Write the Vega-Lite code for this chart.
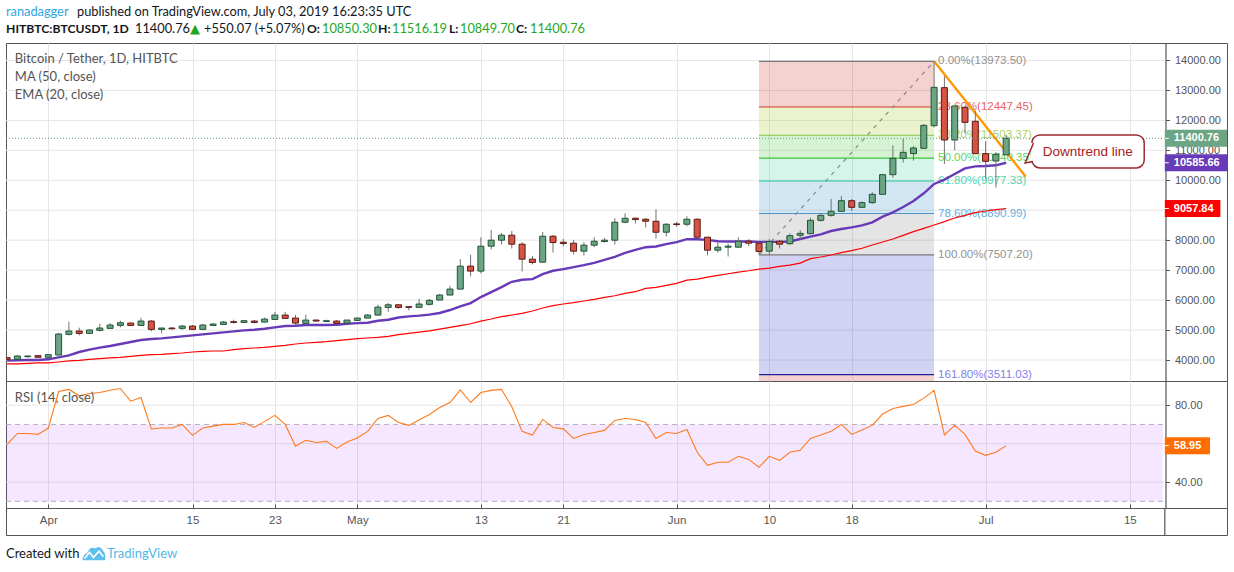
{
  "$schema": "https://vega.github.io/schema/vega-lite/v6.json",
  "description": "Bitcoin / Tether daily candles with EMA 20, MA 50, fibonacci retracement and RSI 14.",
  "padding": {"left": 5, "right": 0, "top": 0, "bottom": 0},
  "background": "white",
  "bounds": "flush",
  "spacing": 0,
  "resolve": {"scale": {"color": "independent", "fill": "independent", "stroke": "independent"}},
  "datasets": {
    "daily": [
      {"date":"2019-03-28","open":4079,"close":4023,"high":4090,"low":4012,"ema":3979,"ma":3868,"rsi":59.6},
      {"date":"2019-03-29","open":4023,"close":4134,"high":4156,"low":4001,"ema":3990,"ma":3868,"rsi":65.3},
      {"date":"2019-03-30","open":4112,"close":4134,"high":4145,"low":4079,"ema":4001,"ma":3890,"rsi":65.3},
      {"date":"2019-03-31","open":4145,"close":4090,"high":4150,"low":4085,"ema":4001,"ma":3901,"rsi":64.8},
      {"date":"2019-04-01","open":4090,"close":4179,"high":4190,"low":4079,"ema":4023,"ma":3901,"rsi":68.1},
      {"date":"2019-04-02","open":4167,"close":4867,"high":4900,"low":4156,"ema":4090,"ma":3934,"rsi":87.1},
      {"date":"2019-04-03","open":4856,"close":4967,"high":5278,"low":4822,"ema":4156,"ma":3968,"rsi":88.2},
      {"date":"2019-04-04","open":4967,"close":4889,"high":5078,"low":4822,"ema":4267,"ma":3990,"rsi":84.9},
      {"date":"2019-04-05","open":4889,"close":5000,"high":5033,"low":4889,"ema":4345,"ma":4023,"rsi":86.1},
      {"date":"2019-04-06","open":4989,"close":5067,"high":5211,"low":4956,"ema":4412,"ma":4045,"rsi":86.6},
      {"date":"2019-04-07","open":5056,"close":5167,"high":5233,"low":5056,"ema":4467,"ma":4068,"rsi":87.8},
      {"date":"2019-04-08","open":5155,"close":5244,"high":5311,"low":5089,"ema":4534,"ma":4090,"rsi":88.7},
      {"date":"2019-04-09","open":5233,"close":5155,"high":5255,"low":5133,"ema":4600,"ma":4123,"rsi":82.1},
      {"date":"2019-04-10","open":5155,"close":5300,"high":5411,"low":5155,"ema":4667,"ma":4156,"rsi":84},
      {"date":"2019-04-11","open":5300,"close":5022,"high":5333,"low":4956,"ema":4700,"ma":4179,"rsi":67.6},
      {"date":"2019-04-12","open":5022,"close":5067,"high":5067,"low":4889,"ema":4722,"ma":4190,"rsi":68.1},
      {"date":"2019-04-13","open":5067,"close":5044,"high":5100,"low":5011,"ema":4756,"ma":4212,"rsi":68.1},
      {"date":"2019-04-14","open":5056,"close":5133,"high":5167,"low":5011,"ema":4789,"ma":4234,"rsi":70},
      {"date":"2019-04-15","open":5133,"close":5022,"high":5167,"low":5000,"ema":4822,"ma":4267,"rsi":64.3},
      {"date":"2019-04-16","open":5022,"close":5167,"high":5200,"low":5022,"ema":4856,"ma":4290,"rsi":68.1},
      {"date":"2019-04-17","open":5155,"close":5200,"high":5233,"low":5155,"ema":4889,"ma":4301,"rsi":69.1},
      {"date":"2019-04-18","open":5189,"close":5266,"high":5300,"low":5189,"ema":4922,"ma":4301,"rsi":70},
      {"date":"2019-04-19","open":5278,"close":5255,"high":5344,"low":5222,"ema":4956,"ma":4345,"rsi":70},
      {"date":"2019-04-20","open":5255,"close":5311,"high":5333,"low":5244,"ema":4989,"ma":4378,"rsi":71},
      {"date":"2019-04-21","open":5300,"close":5255,"high":5333,"low":5222,"ema":5011,"ma":4401,"rsi":68.4},
      {"date":"2019-04-22","open":5266,"close":5366,"high":5411,"low":5255,"ema":5044,"ma":4423,"rsi":71.6},
      {"date":"2019-04-23","open":5355,"close":5500,"high":5610,"low":5355,"ema":5089,"ma":4456,"rsi":74.7},
      {"date":"2019-04-24","open":5500,"close":5389,"high":5610,"low":5389,"ema":5133,"ma":4489,"rsi":70},
      {"date":"2019-04-25","open":5400,"close":5233,"high":5511,"low":5155,"ema":5144,"ma":4534,"rsi":58.6},
      {"date":"2019-04-26","open":5222,"close":5333,"high":5511,"low":5178,"ema":5167,"ma":4567,"rsi":61.7},
      {"date":"2019-04-27","open":5333,"close":5300,"high":5344,"low":5289,"ema":5167,"ma":4589,"rsi":60.6},
      {"date":"2019-04-28","open":5289,"close":5311,"high":5344,"low":5278,"ema":5167,"ma":4612,"rsi":61.2},
      {"date":"2019-04-29","open":5300,"close":5222,"high":5333,"low":5200,"ema":5178,"ma":4645,"rsi":57.5},
      {"date":"2019-04-30","open":5233,"close":5333,"high":5333,"low":5222,"ema":5211,"ma":4678,"rsi":60.8},
      {"date":"2019-05-01","open":5322,"close":5400,"high":5411,"low":5322,"ema":5233,"ma":4711,"rsi":62.9},
      {"date":"2019-05-02","open":5400,"close":5500,"high":5533,"low":5400,"ema":5244,"ma":4734,"rsi":66.4},
      {"date":"2019-05-03","open":5500,"close":5766,"high":5844,"low":5489,"ema":5311,"ma":4756,"rsi":73.1},
      {"date":"2019-05-04","open":5755,"close":5844,"high":5910,"low":5611,"ema":5344,"ma":4789,"rsi":74.7},
      {"date":"2019-05-05","open":5844,"close":5755,"high":5844,"low":5711,"ema":5420,"ma":4850,"rsi":71},
      {"date":"2019-05-06","open":5780,"close":5758,"high":5780,"low":5658,"ema":5458,"ma":4890,"rsi":69.5},
      {"date":"2019-05-07","open":5758,"close":5869,"high":6046,"low":5758,"ema":5480,"ma":4930,"rsi":72.3},
      {"date":"2019-05-08","open":5858,"close":5991,"high":6035,"low":5824,"ema":5514,"ma":4975,"rsi":75.2},
      {"date":"2019-05-09","open":6002,"close":6169,"high":6202,"low":6002,"ema":5569,"ma":5030,"rsi":78.8},
      {"date":"2019-05-10","open":6169,"close":6368,"high":6479,"low":6169,"ema":5669,"ma":5090,"rsi":81.4},
      {"date":"2019-05-11","open":6368,"close":7134,"high":7367,"low":6368,"ema":5791,"ma":5150,"rsi":88},
      {"date":"2019-05-12","open":7134,"close":6968,"high":7512,"low":6790,"ema":5902,"ma":5210,"rsi":81.4},
      {"date":"2019-05-13","open":6968,"close":7800,"high":8100,"low":6890,"ema":6102,"ma":5300,"rsi":86.6},
      {"date":"2019-05-14","open":7800,"close":8000,"high":8344,"low":7689,"ema":6268,"ma":5369,"rsi":87.7},
      {"date":"2019-05-15","open":8000,"close":8167,"high":8244,"low":7856,"ema":6435,"ma":5447,"rsi":88.2},
      {"date":"2019-05-16","open":8167,"close":7867,"high":8311,"low":7722,"ema":6612,"ma":5503,"rsi":79.2},
      {"date":"2019-05-17","open":7867,"close":7367,"high":7933,"low":6957,"ema":6679,"ma":5558,"rsi":66.4},
      {"date":"2019-05-18","open":7367,"close":7256,"high":7478,"low":7190,"ema":6701,"ma":5636,"rsi":64.5},
      {"date":"2019-05-19","open":7267,"close":8133,"high":8278,"low":7256,"ema":6868,"ma":5736,"rsi":72.6},
      {"date":"2019-05-20","open":8133,"close":7922,"high":8178,"low":7589,"ema":6979,"ma":5813,"rsi":68.4},
      {"date":"2019-05-21","open":7933,"close":7889,"high":8044,"low":7800,"ema":7034,"ma":5869,"rsi":67.7},
      {"date":"2019-05-22","open":7900,"close":7634,"high":8011,"low":7523,"ema":7101,"ma":5913,"rsi":62.7},
      {"date":"2019-05-23","open":7634,"close":7833,"high":7933,"low":7489,"ema":7167,"ma":5969,"rsi":64.8},
      {"date":"2019-05-24","open":7833,"close":7967,"high":8100,"low":7767,"ema":7245,"ma":6024,"rsi":65.8},
      {"date":"2019-05-25","open":7956,"close":8000,"high":8078,"low":7922,"ema":7345,"ma":6091,"rsi":66.9},
      {"date":"2019-05-26","open":8000,"close":8600,"high":8733,"low":7856,"ema":7445,"ma":6146,"rsi":72.1},
      {"date":"2019-05-27","open":8600,"close":8733,"high":8900,"low":8566,"ema":7578,"ma":6224,"rsi":73.1},
      {"date":"2019-05-28","open":8733,"close":8689,"high":8755,"low":8555,"ema":7678,"ma":6280,"rsi":72.6},
      {"date":"2019-05-29","open":8700,"close":8633,"high":8733,"low":8422,"ema":7767,"ma":6390,"rsi":71},
      {"date":"2019-05-30","open":8633,"close":8266,"high":9032,"low":8055,"ema":7789,"ma":6424,"rsi":62.7},
      {"date":"2019-05-31","open":8266,"close":8533,"high":8566,"low":8122,"ema":7867,"ma":6490,"rsi":65.8},
      {"date":"2019-06-01","open":8544,"close":8522,"high":8610,"low":8455,"ema":7933,"ma":6557,"rsi":65.3},
      {"date":"2019-06-02","open":8533,"close":8700,"high":8800,"low":8466,"ema":8033,"ma":6668,"rsi":67.4},
      {"date":"2019-06-03","open":8700,"close":8100,"high":8733,"low":8089,"ema":8033,"ma":6701,"rsi":55.5},
      {"date":"2019-06-04","open":8100,"close":7667,"high":8100,"low":7489,"ema":8011,"ma":6768,"rsi":48.7},
      {"date":"2019-06-05","open":7667,"close":7767,"high":7922,"low":7589,"ema":7967,"ma":6823,"rsi":50.3},
      {"date":"2019-06-06","open":7767,"close":7800,"high":7889,"low":7456,"ema":7956,"ma":6879,"rsi":50.3},
      {"date":"2019-06-07","open":7767,"close":7967,"high":8100,"low":7767,"ema":7956,"ma":6934,"rsi":53.4},
      {"date":"2019-06-08","open":7967,"close":7900,"high":8033,"low":7800,"ema":7956,"ma":6979,"rsi":51.8},
      {"date":"2019-06-09","open":7900,"close":7622,"high":7900,"low":7523,"ema":7945,"ma":7034,"rsi":47.7},
      {"date":"2019-06-10","open":7634,"close":7956,"high":8033,"low":7500,"ema":7945,"ma":7068,"rsi":53.4},
      {"date":"2019-06-11","open":7967,"close":7867,"high":8000,"low":7722,"ema":7945,"ma":7123,"rsi":51.3},
      {"date":"2019-06-12","open":7884,"close":8151,"high":8229,"low":7840,"ema":7958,"ma":7167,"rsi":55.5},
      {"date":"2019-06-13","open":8162,"close":8229,"high":8340,"low":8040,"ema":8040,"ma":7234,"rsi":56.5},
      {"date":"2019-06-14","open":8218,"close":8663,"high":8751,"low":8196,"ema":8118,"ma":7385,"rsi":62.7},
      {"date":"2019-06-15","open":8663,"close":8830,"high":8897,"low":8618,"ema":8196,"ma":7440,"rsi":64.5},
      {"date":"2019-06-16","open":8830,"close":8964,"high":9375,"low":8786,"ema":8307,"ma":7507,"rsi":66.4},
      {"date":"2019-06-17","open":8964,"close":9320,"high":9476,"low":8941,"ema":8374,"ma":7585,"rsi":70},
      {"date":"2019-06-18","open":9320,"close":9097,"high":9375,"low":8975,"ema":8430,"ma":7652,"rsi":64.8},
      {"date":"2019-06-19","open":9097,"close":9253,"high":9298,"low":9075,"ema":8497,"ma":7730,"rsi":67.1},
      {"date":"2019-06-20","open":9253,"close":9532,"high":9599,"low":9220,"ema":8597,"ma":7841,"rsi":69.5},
      {"date":"2019-06-21","open":9532,"close":10188,"high":10188,"low":9510,"ema":8786,"ma":7941,"rsi":75.4},
      {"date":"2019-06-22","open":10188,"close":10733,"high":11167,"low":10088,"ema":8931,"ma":8041,"rsi":78.3},
      {"date":"2019-06-23","open":10733,"close":10934,"high":11390,"low":10589,"ema":9109,"ma":8163,"rsi":79.4},
      {"date":"2019-06-24","open":10889,"close":11078,"high":11145,"low":10656,"ema":9309,"ma":8285,"rsi":80.4},
      {"date":"2019-06-25","open":11067,"close":11835,"high":11880,"low":11056,"ema":9565,"ma":8396,"rsi":83.7},
      {"date":"2019-06-26","open":11824,"close":13104,"high":13973,"low":11768,"ema":9877,"ma":8507,"rsi":87.7},
      {"date":"2019-06-27","open":13093,"close":11345,"high":13482,"low":10544,"ema":10021,"ma":8618,"rsi":64.5},
      {"date":"2019-06-28","open":11345,"close":12481,"high":12481,"low":11011,"ema":10210,"ma":8741,"rsi":69.5},
      {"date":"2019-06-29","open":12436,"close":11935,"high":12492,"low":11568,"ema":10399,"ma":8830,"rsi":64.8},
      {"date":"2019-06-30","open":11969,"close":10889,"high":12325,"low":10889,"ema":10466,"ma":8919,"rsi":56.1},
      {"date":"2019-07-01","open":10889,"close":10633,"high":11301,"low":10055,"ema":10477,"ma":8975,"rsi":53.9},
      {"date":"2019-07-02","open":10644,"close":10867,"high":10934,"low":9754,"ema":10500,"ma":9019,"rsi":55.5},
      {"date":"2019-07-03","open":10850.3,"close":11400.76,"high":11516.19,"low":10849.7,"ema":10585.66,"ma":9057.84,"rsi":58.95}
    ]
  },
  "vconcat": [
    {
      "width": 1221,
      "height": 43,
      "view": {"stroke": null},
      "data": {"values": [
        {"seg": 0, "line": 1, "txt": "ranadagger", "kind": "user", "bold": false},
        {"seg": 1, "line": 1, "txt": "published on TradingView.com, July 03, 2019 16:23:35 UTC", "kind": "plain", "bold": false},
        {"seg": 0, "line": 2, "txt": "HITBTC:BTCUSDT, 1D", "kind": "plain", "bold": true},
        {"seg": 2, "line": 2, "txt": "11400.76", "kind": "plain", "bold": false},
        {"seg": 3, "line": 2, "txt": "▲", "kind": "up", "bold": false},
        {"seg": 4, "line": 2, "txt": "+550.07 (+5.07%)", "kind": "plain", "bold": false},
        {"seg": 5, "line": 2, "txt": "O:", "kind": "plain", "bold": true},
        {"seg": 6, "line": 2, "txt": "10850.30", "kind": "up", "bold": false},
        {"seg": 7, "line": 2, "txt": "H:", "kind": "plain", "bold": true},
        {"seg": 8, "line": 2, "txt": "11516.19", "kind": "up", "bold": false},
        {"seg": 9, "line": 2, "txt": "L:", "kind": "plain", "bold": true},
        {"seg": 10, "line": 2, "txt": "10849.70", "kind": "up", "bold": false},
        {"seg": 11, "line": 2, "txt": "C:", "kind": "plain", "bold": true},
        {"seg": 12, "line": 2, "txt": "11400.76", "kind": "up", "bold": false}
      ]},
      "encoding": {
        "x": {"field": "seg", "type": "quantitative", "axis": null, "scale": {"domain": [0,1,2,3,4,5,6,7,8,9,10,11,12], "range": [0,71,129,184,198,301,316,372,386,443,454,510,524]}},
        "y": {"field": "line", "type": "quantitative", "axis": null, "scale": {"domain": [1,2], "range": [12,29]}},
        "text": {"field": "txt"},
        "color": {"field": "kind", "legend": null, "scale": {"domain": ["user","plain","up"], "range": ["#2fa6e0","#131722","#1fa71f"]}}
      },
      "layer": [
        {"transform": [{"filter": "!datum.bold && datum.txt != '▲'"}], "mark": {"type": "text", "align": "left", "font": "Lato", "fontSize": 12.8}},
        {"transform": [{"filter": "datum.txt == '▲'"}], "mark": {"type": "text", "align": "left", "font": "DejaVu Sans", "fontSize": 13}},
        {"transform": [{"filter": "datum.bold"}], "mark": {"type": "text", "align": "left", "font": "Lato", "fontSize": 12.2, "fontWeight": "bold"}}
      ]
    },
    {
      "width": 1221,
      "height": 338,
      "view": {"stroke": "#555555"},
      "encoding": {
        "x": {
          "field": "date", "type": "temporal", "title": null,
          "scale": {"type": "utc", "padding": 0, "domain": ["2019-03-27T21:26:00Z", "2019-07-24T10:30:00Z"]},
          "axis": {"title": null, "labels": false, "ticks": false, "domain": false, "grid": true, "gridColor": "#e6e6e6", "values": ["2019-04-01T00:00:00Z","2019-04-15T00:00:00Z","2019-04-23T00:00:00Z","2019-05-01T00:00:00Z","2019-05-13T00:00:00Z","2019-05-21T00:00:00Z","2019-06-01T00:00:00Z","2019-06-10T00:00:00Z","2019-06-18T00:00:00Z","2019-07-01T00:00:00Z","2019-07-15T00:00:00Z"]}
        },
        "y": {
          "field": "price", "type": "quantitative", "title": null,
          "scale": {"domain": [3299, 14584]},
          "axis": {"title": null, "orient": "right", "offset": -61.5, "grid": false, "format": ".2f", "values": [4000,5000,6000,7000,8000,9000,10000,11000,12000,13000,14000], "domainColor": "#555555", "domainWidth": 1.2, "tickColor": "#555555", "tickSize": 4, "labelColor": "#555555", "labelFont": "Liberation Sans", "labelFontSize": 11, "labelPadding": 5}
        }
      },
      "layer": [
        {
          "data": {"values": [
            {"price": 4000, "date": "2019-03-27T21:26:00Z", "end": "2019-07-18T09:36:00Z"},
            {"price": 5000, "date": "2019-03-27T21:26:00Z", "end": "2019-07-18T09:36:00Z"},
            {"price": 6000, "date": "2019-03-27T21:26:00Z", "end": "2019-07-18T09:36:00Z"},
            {"price": 7000, "date": "2019-03-27T21:26:00Z", "end": "2019-07-18T09:36:00Z"},
            {"price": 8000, "date": "2019-03-27T21:26:00Z", "end": "2019-07-18T09:36:00Z"},
            {"price": 9000, "date": "2019-03-27T21:26:00Z", "end": "2019-07-18T09:36:00Z"},
            {"price": 10000, "date": "2019-03-27T21:26:00Z", "end": "2019-07-18T09:36:00Z"},
            {"price": 11000, "date": "2019-03-27T21:26:00Z", "end": "2019-07-18T09:36:00Z"},
            {"price": 12000, "date": "2019-03-27T21:26:00Z", "end": "2019-07-18T09:36:00Z"},
            {"price": 13000, "date": "2019-03-27T21:26:00Z", "end": "2019-07-18T09:36:00Z"},
            {"price": 14000, "date": "2019-03-27T21:26:00Z", "end": "2019-07-18T09:36:00Z"}
          ], "format": {"parse": {"date": "date", "end": "date"}}},
          "mark": {"type": "rule", "color": "#e6e6e6", "strokeWidth": 1},
          "encoding": {"x2": {"field": "end"}}
        },
        {
          "data": {"name": "fib", "values": [
            {"level": "0", "label": "0.00%(13973.50)", "price": 13973.5, "next": 12447.45, "date": "2019-06-09", "end": "2019-06-26"},
            {"level": "23.6", "label": "23.60%(12447.45)", "price": 12447.45, "next": 11503.37, "date": "2019-06-09", "end": "2019-06-26"},
            {"level": "38.2", "label": "38.20%(11503.37)", "price": 11503.37, "next": 10740.35, "date": "2019-06-09", "end": "2019-06-26"},
            {"level": "50", "label": "50.00%(10740.35)", "price": 10740.35, "next": 9977.33, "date": "2019-06-09", "end": "2019-06-26"},
            {"level": "61.8", "label": "61.80%(9977.33)", "price": 9977.33, "next": 8890.99, "date": "2019-06-09", "end": "2019-06-26"},
            {"level": "78.6", "label": "78.60%(8890.99)", "price": 8890.99, "next": 7507.2, "date": "2019-06-09", "end": "2019-06-26"},
            {"level": "100", "label": "100.00%(7507.20)", "price": 7507.2, "next": 3511.03, "date": "2019-06-09", "end": "2019-06-26"},
            {"level": "161.8", "label": "161.80%(3511.03)", "price": 3511.03, "next": 3299, "date": "2019-06-09", "end": "2019-06-26"}
          ], "format": {"parse": {"date": "date", "end": "date"}}},
          "mark": {"type": "rect", "opacity": 0.2},
          "encoding": {
            "x2": {"field": "end"},
            "y2": {"field": "next"},
            "fill": {"field": "level", "legend": null, "scale": {"domain": ["0","23.6","38.2","50","61.8","78.6","100","161.8","close","ema","ma"], "range": ["#c81e14","#96c305","#2dc31e","#2dcd96","#1e82c3","#787878","#1e23be","#c81e14","#6ba583","#673ab7","#ff0000"]}}
          }
        },
        {
          "data": {"name": "fib"},
          "mark": {"type": "rule", "strokeWidth": 1.2},
          "encoding": {
            "x2": {"field": "end"},
            "stroke": {"field": "level", "legend": null, "scale": {"domain": ["0","23.6","38.2","50","61.8","78.6","100","161.8"], "range": ["#787878","#d8392b","#8bc34a","#3cc23c","#26c6a0","#4a96c8","#787878","#2020a0"]}}
          }
        },
        {
          "data": {"name": "fib"},
          "mark": {"type": "text", "align": "left", "dx": 4, "font": "Liberation Sans", "fontSize": 11.5, "opacity": 0.85},
          "encoding": {
            "x": {"field": "end", "type": "temporal", "scale": {"type": "utc", "padding": 0, "domain": ["2019-03-27T21:26:00Z", "2019-07-24T10:30:00Z"]}},
            "text": {"field": "label"},
            "color": {"field": "level", "legend": null, "scale": {"domain": ["0","23.6","38.2","50","61.8","78.6","100","161.8"], "range": ["#808080","#e24a4a","#9ccc45","#3fd03f","#2fcf9f","#45a5e0","#808080","#6a6ae6"]}}
          }
        },
        {
          "data": {"values": [
            {"date": "2019-06-09", "price": 7507.2, "end": "2019-06-26", "next": 13973.5}
          ], "format": {"parse": {"date": "date", "end": "date"}}},
          "mark": {"type": "rule", "color": "#8a8a8a", "strokeWidth": 1.2, "strokeDash": [4, 5]},
          "encoding": {"x2": {"field": "end"}, "y2": {"field": "next"}}
        },
        {
          "data": {"name": "daily"},
          "mark": {"type": "line", "color": "#673ab7", "strokeWidth": 2.4, "clip": true},
          "encoding": {"y": {"field": "ema", "type": "quantitative", "scale": {"domain": [3299, 14584]}}}
        },
        {
          "data": {"name": "daily"},
          "mark": {"type": "line", "color": "#ff0000", "strokeWidth": 1.2, "clip": true},
          "encoding": {"y": {"field": "ma", "type": "quantitative", "scale": {"domain": [3299, 14584]}}}
        },
        {
          "data": {"values": [
            {"date": "2019-06-26T00:00:00Z", "price": 13973.5, "end": "2019-07-04T21:36:00Z", "next": 10121}
          ], "format": {"parse": {"date": "date", "end": "date"}}},
          "mark": {"type": "rule", "color": "#ff9800", "strokeWidth": 2.3},
          "encoding": {"x2": {"field": "end"}, "y2": {"field": "next"}}
        },
        {
          "data": {"name": "daily"},
          "mark": {"type": "rule", "color": "#737375", "strokeWidth": 1, "clip": true},
          "encoding": {"y": {"field": "high", "type": "quantitative", "scale": {"domain": [3299, 14584]}}, "y2": {"field": "low"}}
        },
        {
          "data": {"name": "daily"},
          "mark": {"type": "bar", "size": 6, "strokeWidth": 1, "clip": true},
          "encoding": {
            "y": {"field": "open", "type": "quantitative", "scale": {"domain": [3299, 14584]}},
            "y2": {"field": "close"},
            "fill": {"condition": {"test": "datum.close >= datum.open", "value": "#6ba583"}, "value": "#d75442"},
            "stroke": {"condition": {"test": "datum.close >= datum.open", "value": "#225437"}, "value": "#5b1a13"}
          }
        },
        {
          "data": {"values": [
            {"date": "2019-03-27T21:26:00Z", "end": "2019-07-18T09:36:00Z", "price": 11400.76}
          ], "format": {"parse": {"date": "date", "end": "date"}}},
          "mark": {"type": "rule", "color": "#5f9f7d", "strokeWidth": 1, "strokeDash": [1, 2]},
          "encoding": {"x2": {"field": "end"}}
        },
        {
          "data": {"values": [
            {"date": "2019-03-28T18:00:00Z", "price": 14050, "txt": "Bitcoin / Tether, 1D, HITBTC", "bold": true},
            {"date": "2019-03-28T18:00:00Z", "price": 13449, "txt": "MA (50, close)", "bold": false},
            {"date": "2019-03-28T18:00:00Z", "price": 12848, "txt": "EMA (20, close)", "bold": false}
          ], "format": {"parse": {"date": "date"}}},
          "mark": {"type": "text", "align": "left", "font": "Lato", "fontSize": 13, "color": "#555555"},
          "encoding": {"text": {"field": "txt"}, "fontWeight": {"field": "bold", "legend": null, "scale": {"domain": [true, false], "range": ["bold", "normal"]}}}
        },
        {
          "data": {"values": [
            {"date": "2019-07-05T12:00:00Z", "end": "2019-07-16T09:36:00Z", "price": 11513, "next": 10411}
          ], "format": {"parse": {"date": "date", "end": "date"}}},
          "mark": {"type": "rect", "fill": "white", "stroke": "#9c2a30", "strokeWidth": 1.5, "cornerRadius": 8},
          "encoding": {"x2": {"field": "end"}, "y2": {"field": "next"}}
        },
        {
          "data": {"values": [
            {"date": "2019-07-05T12:00:00Z", "price": 11245, "next": 10628}
          ], "format": {"parse": {"date": "date"}}},
          "mark": {"type": "rule", "color": "white", "strokeWidth": 2.5},
          "encoding": {"y2": {"field": "next"}}
        },
        {
          "data": {"values": [
            {"step": 1, "date": "2019-07-05T15:36:00Z", "price": 11245},
            {"step": 2, "date": "2019-07-04T20:00:00Z", "price": 10578},
            {"step": 3, "date": "2019-07-05T14:30:00Z", "price": 10628}
          ], "format": {"parse": {"date": "date"}}},
          "mark": {"type": "line", "color": "#9c2a30", "strokeWidth": 1.5},
          "encoding": {"order": {"field": "step"}}
        },
        {
          "data": {"values": [
            {"date": "2019-07-10T22:00:00Z", "price": 10950, "txt": "Downtrend line"}
          ], "format": {"parse": {"date": "date"}}},
          "mark": {"type": "text", "font": "Liberation Sans", "fontSize": 13.5, "color": "#a81c20"},
          "encoding": {"text": {"field": "txt"}}
        },
        {
          "data": {"name": "tags", "values": [
            {"name": "close", "txt": "11400.76", "price": 11400.76, "date": "2019-07-18T09:36:00Z", "tick": "2019-07-18T18:54:00Z", "end": "2019-07-24T10:30:00Z"},
            {"name": "ema", "txt": "10585.66", "price": 10585.66, "date": "2019-07-18T09:36:00Z", "tick": "2019-07-18T18:54:00Z", "end": "2019-07-24T10:30:00Z"},
            {"name": "ma", "txt": "9057.84", "price": 9057.84, "date": "2019-07-18T09:36:00Z", "tick": "2019-07-18T18:54:00Z", "end": "2019-07-23T19:00:00Z"}
          ], "format": {"parse": {"date": "date", "tick": "date", "end": "date"}}},
          "mark": {"type": "rect", "height": 17},
          "encoding": {
            "x2": {"field": "end"},
            "fill": {"field": "name", "legend": null, "scale": {"domain": ["0","23.6","38.2","50","61.8","78.6","100","161.8","close","ema","ma"], "range": ["#c81e14","#96c305","#2dc31e","#2dcd96","#1e82c3","#787878","#1e23be","#c81e14","#6ba583","#673ab7","#ff0000"]}}
          }
        },
        {
          "data": {"name": "tags"},
          "mark": {"type": "rule", "color": "white", "strokeWidth": 1},
          "encoding": {"x2": {"field": "tick"}}
        },
        {
          "data": {"name": "tags"},
          "mark": {"type": "text", "align": "left", "dx": 9, "font": "Liberation Sans", "fontSize": 11, "fontWeight": "bold", "color": "white"},
          "encoding": {"text": {"field": "txt"}}
        }
      ]
    },
    {
      "width": 1221,
      "height": 127,
      "view": {"stroke": "#555555"},
      "encoding": {
        "x": {
          "field": "date", "type": "temporal", "title": null,
          "scale": {"type": "utc", "domain": ["2019-03-27T21:26:00Z", "2019-07-24T10:30:00Z"]},
          "axis": {"title": null, "labels": false, "ticks": false, "domain": false, "grid": true, "gridColor": "#e6e6e6", "values": ["2019-04-01T00:00:00Z","2019-04-15T00:00:00Z","2019-04-23T00:00:00Z","2019-05-01T00:00:00Z","2019-05-13T00:00:00Z","2019-05-21T00:00:00Z","2019-06-01T00:00:00Z","2019-06-10T00:00:00Z","2019-06-18T00:00:00Z","2019-07-01T00:00:00Z","2019-07-15T00:00:00Z"]}
        },
        "y": {
          "field": "value", "type": "quantitative", "title": null,
          "scale": {"domain": [26.5, 92.6]},
          "axis": {"title": null, "orient": "right", "offset": -61.5, "grid": false, "format": ".2f", "values": [40, 60, 80], "domainColor": "#555555", "domainWidth": 1.2, "tickColor": "#555555", "tickSize": 4, "labelColor": "#555555", "labelFont": "Liberation Sans", "labelFontSize": 11, "labelPadding": 5}
        }
      },
      "layer": [
        {
          "data": {"values": [
            {"value": 80, "date": "2019-03-27T21:26:00Z", "end": "2019-07-18T09:36:00Z"},
            {"value": 60, "date": "2019-03-27T21:26:00Z", "end": "2019-07-18T09:36:00Z"},
            {"value": 40, "date": "2019-03-27T21:26:00Z", "end": "2019-07-18T09:36:00Z"}
          ], "format": {"parse": {"date": "date", "end": "date"}}},
          "mark": {"type": "rule", "color": "#e6e6e6", "strokeWidth": 1},
          "encoding": {"x2": {"field": "end"}}
        },
        {
          "data": {"values": [
            {"date": "2019-03-27T21:26:00Z", "end": "2019-07-18T05:00:00Z", "value": 70, "low": 30}
          ], "format": {"parse": {"date": "date", "end": "date"}}},
          "mark": {"type": "rect", "fill": "#9915ff", "opacity": 0.1},
          "encoding": {"x2": {"field": "end"}, "y2": {"field": "low"}}
        },
        {
          "data": {"values": [
            {"value": 70, "date": "2019-03-27T21:26:00Z", "end": "2019-07-18T09:36:00Z"},
            {"value": 30, "date": "2019-03-27T21:26:00Z", "end": "2019-07-18T09:36:00Z"}
          ], "format": {"parse": {"date": "date", "end": "date"}}},
          "mark": {"type": "rule", "color": "#b5aeb9", "strokeWidth": 1, "strokeDash": [5, 4]},
          "encoding": {"x2": {"field": "end"}}
        },
        {
          "data": {"name": "daily"},
          "mark": {"type": "line", "color": "#ff7a1a", "strokeWidth": 1.1, "clip": true},
          "encoding": {"y": {"field": "rsi", "type": "quantitative", "scale": {"domain": [26.5, 92.6]}}}
        },
        {
          "data": {"values": [
            {"date": "2019-03-28T18:00:00Z", "value": 83.8, "txt": "RSI (14, close)"}
          ], "format": {"parse": {"date": "date"}}},
          "mark": {"type": "text", "align": "left", "font": "Lato", "fontSize": 13, "color": "#555555"},
          "encoding": {"text": {"field": "txt"}}
        },
        {
          "data": {"name": "rsitag", "values": [
            {"txt": "58.95", "value": 58.95, "date": "2019-07-18T09:36:00Z", "tick": "2019-07-18T18:54:00Z", "end": "2019-07-22T19:00:00Z"}
          ], "format": {"parse": {"date": "date", "tick": "date", "end": "date"}}},
          "mark": {"type": "rect", "height": 17, "fill": "#ff6d00"},
          "encoding": {"x2": {"field": "end"}}
        },
        {
          "data": {"name": "rsitag"},
          "mark": {"type": "rule", "color": "white", "strokeWidth": 1},
          "encoding": {"x2": {"field": "tick"}}
        },
        {
          "data": {"name": "rsitag"},
          "mark": {"type": "text", "align": "left", "dx": 9, "font": "Liberation Sans", "fontSize": 11, "fontWeight": "bold", "color": "white"},
          "encoding": {"text": {"field": "txt"}}
        }
      ]
    },
    {
      "width": 1221,
      "height": 27,
      "view": {"stroke": "#555555"},
      "data": {"values": [{"date": "2019-07-18T09:36:00Z"}], "format": {"parse": {"date": "date"}}},
      "mark": {"type": "rule", "color": "#555555", "strokeWidth": 1.2},
      "encoding": {
        "x": {
          "field": "date", "type": "temporal", "title": null,
          "scale": {"type": "utc", "domain": ["2019-03-27T21:26:00Z", "2019-07-24T10:30:00Z"]},
          "axis": {"title": null, "orient": "top", "grid": false, "domain": false, "tickColor": "#555555", "tickSize": 4, "labelColor": "#555555", "labelFont": "Liberation Sans", "labelFontSize": 11.5, "labelPadding": -21, "labelOverlap": false, "labelFlush": false,
            "labelExpr": "utcdate(datum.value) == 1 ? utcFormat(datum.value, '%b') : utcFormat(datum.value, '%d')",
            "values": ["2019-04-01T00:00:00Z","2019-04-15T00:00:00Z","2019-04-23T00:00:00Z","2019-05-01T00:00:00Z","2019-05-13T00:00:00Z","2019-05-21T00:00:00Z","2019-06-01T00:00:00Z","2019-06-10T00:00:00Z","2019-06-18T00:00:00Z","2019-07-01T00:00:00Z","2019-07-15T00:00:00Z"]}
        }
      }
    },
    {
      "width": 1221,
      "height": 37,
      "view": {"stroke": null},
      "encoding": {
        "x": {"field": "seg", "type": "quantitative", "axis": null, "scale": {"domain": [0, 1, 2], "range": [0, 88, 101]}}
      },
      "layer": [
        {
          "data": {"values": [{"seg": 0, "txt": "Created with"}]},
          "mark": {"type": "text", "align": "left", "font": "Lato", "fontSize": 13, "color": "#131722"},
          "encoding": {"text": {"field": "txt"}}
        },
        {
          "data": {"values": [{"seg": 2, "txt": "TradingView"}]},
          "mark": {"type": "text", "align": "left", "font": "Lato", "fontSize": 13, "color": "#4fb8e8"},
          "encoding": {"text": {"field": "txt"}}
        },
        {
          "data": {"values": [{"seg": 1}]},
          "mark": {"type": "point", "filled": true, "size": 500, "opacity": 1, "color": "#5cc0ea", "shape": "M-1,0.6 Q-1.05,0.1 -0.6,-0.05 Q-0.35,-0.7 0.1,-0.45 Q0.5,-0.8 0.8,-0.25 Q1.1,0.05 1,0.6 Z"}
        },
        {
          "data": {"values": [{"seg": 1}]},
          "mark": {"type": "point", "filled": false, "size": 500, "opacity": 1, "stroke": "white", "strokeWidth": 1.6, "shape": "M-0.85,0.45 L-0.4,-0.1 L-0.05,0.35 L0.45,-0.2 L0.85,0.3"}
        }
      ]
    }
  ]
}
